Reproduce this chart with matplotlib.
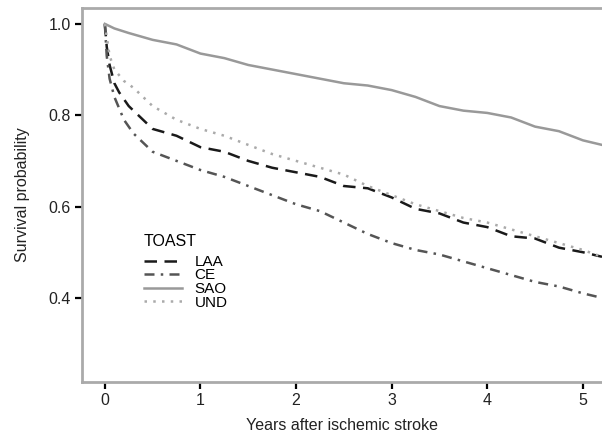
import numpy as np
import matplotlib.pyplot as plt

plt.rcParams['font.family'] = ['Liberation Sans', 'DejaVu Sans']

# Kaplan-Meier estimates (years, survival)
t_laa = [0, 0.02, 0.05, 0.1, 0.15, 0.25, 0.35, 0.5, 0.75, 1.0, 1.25, 1.5, 1.75, 2.0,
         2.25, 2.5, 2.75, 3.0, 3.25, 3.5, 3.75, 4.0, 4.25, 4.5, 4.75, 5.0, 5.2]
s_laa = [1.0, 0.95, 0.91, 0.87, 0.85, 0.82, 0.80, 0.77, 0.755, 0.73, 0.72, 0.70, 0.685, 0.675,
         0.665, 0.645, 0.64, 0.62, 0.595, 0.585, 0.565, 0.555, 0.535, 0.53, 0.51, 0.50, 0.49]

t_ce = [0, 0.02, 0.05, 0.1, 0.2, 0.3, 0.5, 0.75, 1.0, 1.25, 1.5, 1.75, 2.0, 2.25, 2.5,
        2.75, 3.0, 3.25, 3.5, 3.75, 4.0, 4.25, 4.5, 4.75, 5.0, 5.2]
s_ce = [1.0, 0.93, 0.88, 0.84, 0.79, 0.76, 0.72, 0.70, 0.68, 0.665, 0.645, 0.625, 0.605, 0.59, 0.565,
        0.54, 0.52, 0.505, 0.495, 0.48, 0.465, 0.45, 0.435, 0.425, 0.41, 0.40]

t_sao = [0, 0.1, 0.25, 0.5, 0.75, 1.0, 1.25, 1.5, 1.75, 2.0, 2.25, 2.5, 2.75, 3.0,
         3.25, 3.5, 3.75, 4.0, 4.25, 4.5, 4.75, 5.0, 5.2]
s_sao = [1.0, 0.99, 0.98, 0.965, 0.955, 0.935, 0.925, 0.91, 0.90, 0.89, 0.88, 0.87, 0.865, 0.855,
         0.84, 0.82, 0.81, 0.805, 0.795, 0.775, 0.765, 0.745, 0.735]

t_und = [0, 0.05, 0.1, 0.2, 0.3, 0.5, 0.75, 1.0, 1.25, 1.5, 1.75, 2.0, 2.25, 2.5, 2.75,
         3.0, 3.25, 3.5, 3.75, 4.0, 4.25, 4.5, 4.75, 5.0, 5.2]
s_und = [1.0, 0.93, 0.90, 0.875, 0.86, 0.82, 0.79, 0.77, 0.755, 0.735, 0.715, 0.70, 0.685, 0.67, 0.645,
         0.625, 0.605, 0.59, 0.575, 0.565, 0.55, 0.535, 0.52, 0.505, 0.49]

fig = plt.figure(figsize=(6.02, 4.38), dpi=100)
ax = fig.add_axes([0.136, 0.128, 0.864, 0.854])

ax.plot(t_laa, s_laa, color='#1a1a1a', lw=1.8, ls=(0, (5, 3)), label='LAA')
ax.plot(t_ce, s_ce, color='#555555', lw=1.8, ls=(0, (4, 2.5, 1, 2.5)), label='CE')
ax.plot(t_sao, s_sao, color='#999999', lw=1.8, ls='-', label='SAO')
ax.plot(t_und, s_und, color='#aaaaaa', lw=1.8, ls=(0, (1, 2.5)), label='UND')

ax.set_xlim(-0.24, 5.2)
ax.set_ylim(0.216, 1.035)
ax.set_xticks([0, 1, 2, 3, 4, 5])
ax.set_yticks([0.4, 0.6, 0.8, 1.0])
ax.set_yticklabels(['0.4', '0.6', '0.8', '1.0'])

for side in ['left', 'top', 'bottom']:
    ax.spines[side].set_color('#aaaaaa')
    ax.spines[side].set_linewidth(2)
ax.spines['right'].set_visible(False)
ax.tick_params(axis='both', direction='out', length=5, width=1.6, color='black',
               labelsize=11.5, labelcolor='#222222', pad=3)

ax.set_xlabel('Years after ischemic stroke', fontsize=11.5, color='#222222', labelpad=7)
ax.set_ylabel('Survival probability', fontsize=11.5, color='#222222', labelpad=13)

leg = ax.legend(title='TOAST', loc='upper left', bbox_to_anchor=(0.105, 0.415), frameon=False,
                fontsize=11, title_fontsize=11.5, handlelength=2.5, handletextpad=0.8,
                labelspacing=-0.03, borderpad=0)
leg._legend_box.align = 'left'
leg._legend_box.sep = 4  # gap between title and entries

fig.savefig('out.png', dpi=100)
